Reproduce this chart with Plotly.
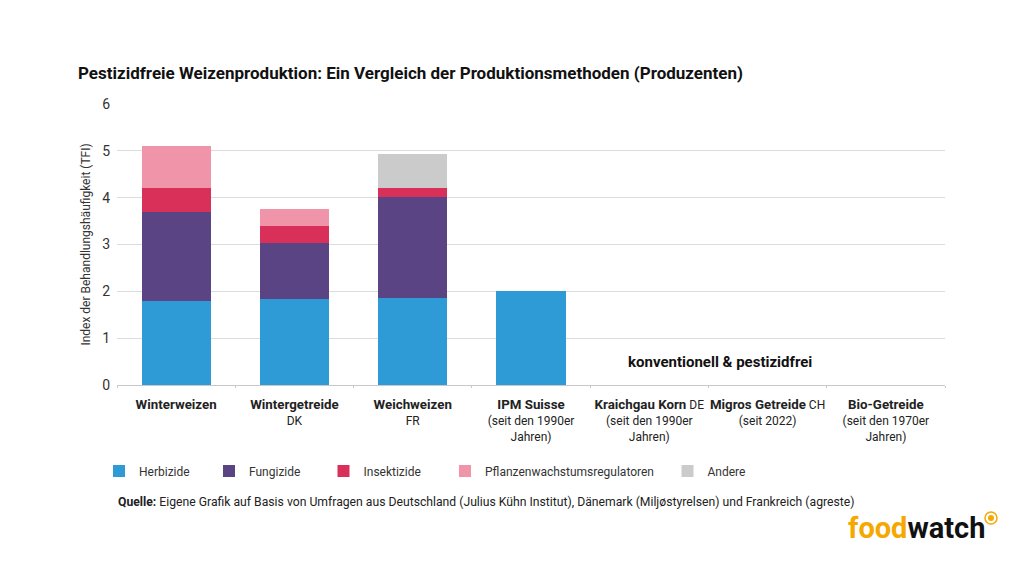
import plotly.graph_objects as go

categories = ["Winterweizen", "Wintergetreide", "Weichweizen", "IPM Suisse",
              "Kraichgau Korn", "Migros Getreide", "Bio-Getreide"]
B = "<span style='font-size:13.3px'><b>%s</b></span>"
tick_labels = [
    B % "Winterweizen",
    B % "Wintergetreide" + "<br>DK",
    B % "Weichweizen" + "<br>FR",
    B % "IPM Suisse" + "<br>(seit den 1990er<br>Jahren)",
    B % "Kraichgau Korn" + " DE<br>(seit den 1990er<br>Jahren)",
    B % "Migros Getreide" + " CH<br>(seit 2022)",
    B % "Bio-Getreide" + "<br>(seit den 1970er<br>Jahren)",
]
herbizide = [1.8, 1.84, 1.86, 2.0, 0, 0, 0]
fungizide = [1.9, 1.19, 2.16, 0, 0, 0, 0]
insektizide = [0.5, 0.37, 0.19, 0, 0, 0, 0]
regulatoren = [0.9, 0.35, 0, 0, 0, 0, 0]
andere = [0, 0, 0.73, 0, 0, 0, 0]

series = [
    ("Herbizide", herbizide, "#2f9bd6"),
    ("Fungizide", fungizide, "#5a4483"),
    ("Insektizide", insektizide, "#d9305a"),
    ("Pflanzenwachstumsregulatoren", regulatoren, "#ef94a9"),
    ("Andere", andere, "#cbcbcb"),
]

FONT = "Roboto, Liberation Sans, sans-serif"

# page is shown with an 8px body margin; plot area in page pixels: x 117..945, y 104..385
def px(x):
    return (x - 117) / 828

def py(y):
    return (385 - y) / 281

legend_x = [99, 209, 323.5, 445, 667.5]

fig = go.Figure()
for i, (name, vals, col) in enumerate(series):
    fig.add_trace(go.Bar(x=categories, y=vals, name=name, marker_color=col,
                         marker_line_width=0, width=0.585, showlegend=True,
                         legend="legend" if i == 0 else "legend%d" % (i + 1)))

leg_common = dict(orientation="h", xanchor="left", y=py(471), yanchor="middle",
                  font=dict(family=FONT, size=12, color="#333"), itemwidth=30,
                  bgcolor="rgba(0,0,0,0)")
layout_legends = {}
for i, lx in enumerate(legend_x):
    key = "legend" if i == 0 else "legend%d" % (i + 1)
    layout_legends[key] = dict(x=px(lx), **leg_common)

fig.update_layout(
    barmode="stack",
    showlegend=True,
    width=1024, height=572,
    margin=dict(l=109, r=87, t=96, b=195, autoexpand=False),
    plot_bgcolor="white", paper_bgcolor="white",
    font=dict(family=FONT, size=12, color="#222"),
    title=dict(text="<b>Pestizidfreie Weizenproduktion: Ein Vergleich der Produktionsmethoden (Produzenten)</b>",
               x=70 / 1024, xanchor="left", y=1 - 65 / 572, yanchor="middle",
               font=dict(family=FONT, size=17, color="#111")),
    **layout_legends,
)
fig.update_xaxes(tickmode="array", tickvals=categories, ticktext=tick_labels,
                 tickangle=0, automargin=False, ticklabelstandoff=9,
                 tickfont=dict(family=FONT, size=12, color="#222"),
                 showline=True, linecolor="#c8c8c8", linewidth=1,
                 ticks="outside", tickson="boundaries", ticklen=2, tickcolor="#c8c8c8",
                 showgrid=False)
fig.update_yaxes(range=[0, 6], dtick=1, showgrid=True, gridcolor="#dcdcdc", gridwidth=1,
                 zeroline=False, automargin=False,
                 tickfont=dict(family=FONT, size=14, color="#333"),
                 ticks="", ticklabelstandoff=6,
                 title=dict(text="Index der Behandlungshäufigkeit (TFI)",
                            font=dict(family=FONT, size=12, color="#333"), standoff=8))

fig.add_annotation(text="<b>konventionell & pestizidfrei</b>", xref="paper", yref="paper",
                   x=px(720), y=py(362), xanchor="center", yanchor="middle",
                   showarrow=False, font=dict(family=FONT, size=15, color="#111"))
fig.add_annotation(text="<b>Quelle:</b> Eigene Grafik auf Basis von Umfragen aus Deutschland (Julius Kühn Institut), Dänemark (Miljøstyrelsen) und Frankreich (agreste)",
                   xref="paper", yref="paper", x=px(116), y=py(502),
                   xanchor="left", yanchor="middle", showarrow=False,
                   font=dict(family=FONT, size=12.2, color="#222"))
fig.add_annotation(text="<b><span style='color:#f5a800'>food</span><span style='color:#111'>watch</span></b>",
                   xref="paper", yref="paper", x=px(846), y=py(528),
                   xanchor="left", yanchor="middle", showarrow=False,
                   font=dict(family=FONT, size=29, weight=900))
fig.add_shape(type="circle", xref="paper", yref="paper",
              x0=px(985), x1=px(997), y0=py(524), y1=py(512),
              line=dict(color="#f5a800", width=1.5), fillcolor="white")
fig.add_shape(type="circle", xref="paper", yref="paper",
              x0=px(988), x1=px(994), y0=py(521), y1=py(515),
              line=dict(width=0), fillcolor="#f5a800")

fig.write_html("out.html")
